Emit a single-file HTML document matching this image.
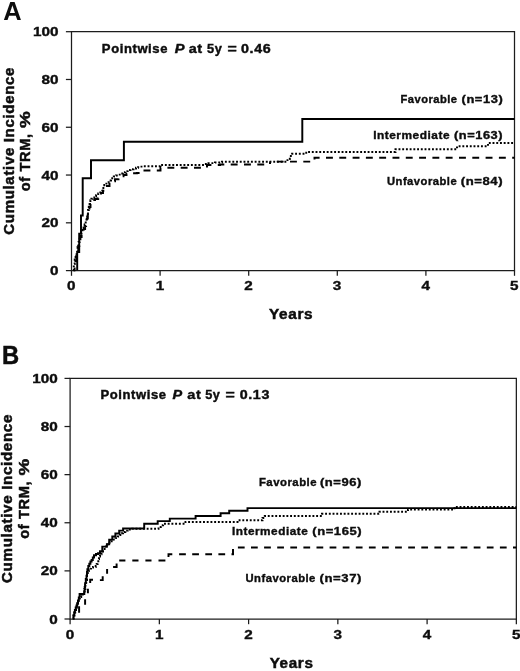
<!DOCTYPE html>
<html><head><meta charset="utf-8"><title>Cumulative Incidence of TRM</title>
<style>html,body{margin:0;padding:0;background:#fff;}svg{display:block;will-change:transform;}text{font-family:"Liberation Sans", sans-serif;font-weight:bold;fill:#0d0d0d;}</style></head><body>
<svg width="520" height="671" viewBox="0 0 520 671">
<rect width="520" height="671" fill="#fff"/>
<path d="M71.50,31.70 H514.50 V270.60 H71.50 Z" fill="none" stroke="#1c1c1c" stroke-width="1.25"/>
<path d="M65.90,270.60 H71.50" stroke="#1c1c1c" stroke-width="1.25"/>
<path d="M65.90,222.82 H71.50" stroke="#1c1c1c" stroke-width="1.25"/>
<path d="M65.90,175.04 H71.50" stroke="#1c1c1c" stroke-width="1.25"/>
<path d="M65.90,127.26 H71.50" stroke="#1c1c1c" stroke-width="1.25"/>
<path d="M65.90,79.48 H71.50" stroke="#1c1c1c" stroke-width="1.25"/>
<path d="M65.90,31.70 H71.50" stroke="#1c1c1c" stroke-width="1.25"/>
<path d="M71.50,270.60 V275.80" stroke="#1c1c1c" stroke-width="1.25"/>
<path d="M160.10,270.60 V275.80" stroke="#1c1c1c" stroke-width="1.25"/>
<path d="M248.70,270.60 V275.80" stroke="#1c1c1c" stroke-width="1.25"/>
<path d="M337.30,270.60 V275.80" stroke="#1c1c1c" stroke-width="1.25"/>
<path d="M425.90,270.60 V275.80" stroke="#1c1c1c" stroke-width="1.25"/>
<path d="M514.50,270.60 V275.80" stroke="#1c1c1c" stroke-width="1.25"/>
<text x="50.00" y="275.10" font-size="12.1" textLength="8.50" lengthAdjust="spacingAndGlyphs" stroke="#0d0d0d" stroke-width="0.36">0</text>
<text x="41.50" y="227.32" font-size="12.1" textLength="17.00" lengthAdjust="spacingAndGlyphs" stroke="#0d0d0d" stroke-width="0.36">20</text>
<text x="41.50" y="179.54" font-size="12.1" textLength="17.00" lengthAdjust="spacingAndGlyphs" stroke="#0d0d0d" stroke-width="0.36">40</text>
<text x="41.50" y="131.76" font-size="12.1" textLength="17.00" lengthAdjust="spacingAndGlyphs" stroke="#0d0d0d" stroke-width="0.36">60</text>
<text x="41.50" y="83.98" font-size="12.1" textLength="17.00" lengthAdjust="spacingAndGlyphs" stroke="#0d0d0d" stroke-width="0.36">80</text>
<text x="33.00" y="36.20" font-size="12.1" textLength="25.50" lengthAdjust="spacingAndGlyphs" stroke="#0d0d0d" stroke-width="0.36">100</text>
<text x="67.05" y="290.40" font-size="12.1" textLength="8.50" lengthAdjust="spacingAndGlyphs" stroke="#0d0d0d" stroke-width="0.36">0</text>
<text x="155.65" y="290.40" font-size="12.1" textLength="8.50" lengthAdjust="spacingAndGlyphs" stroke="#0d0d0d" stroke-width="0.36">1</text>
<text x="244.25" y="290.40" font-size="12.1" textLength="8.50" lengthAdjust="spacingAndGlyphs" stroke="#0d0d0d" stroke-width="0.36">2</text>
<text x="332.85" y="290.40" font-size="12.1" textLength="8.50" lengthAdjust="spacingAndGlyphs" stroke="#0d0d0d" stroke-width="0.36">3</text>
<text x="421.45" y="290.40" font-size="12.1" textLength="8.50" lengthAdjust="spacingAndGlyphs" stroke="#0d0d0d" stroke-width="0.36">4</text>
<text x="510.05" y="290.40" font-size="12.1" textLength="8.50" lengthAdjust="spacingAndGlyphs" stroke="#0d0d0d" stroke-width="0.36">5</text>
<text x="3.35" y="20.00" font-size="25.2" textLength="18.38" lengthAdjust="spacingAndGlyphs" stroke="none">A</text>
<text transform="translate(13.70,234.67) rotate(-90)" font-size="14.0" textLength="167.72" lengthAdjust="spacingAndGlyphs" stroke="#0d0d0d" stroke-width="0.48" letter-spacing="0.63">Cumulative Incidence</text>
<text transform="translate(30.00,191.26) rotate(-90)" font-size="14.0" textLength="57.97" lengthAdjust="spacingAndGlyphs" stroke="#0d0d0d" stroke-width="0.48" letter-spacing="0.63">of TRM,</text>
<text transform="translate(30.00,128.09) rotate(-90)" font-size="14.0" textLength="17.50" lengthAdjust="spacingAndGlyphs" stroke="#0d0d0d" stroke-width="0.48" letter-spacing="0.63">%</text>
<text x="268.96" y="319.30" font-size="14.0" textLength="44.35" lengthAdjust="spacingAndGlyphs" stroke="#0d0d0d" stroke-width="0.48" letter-spacing="0.63">Years</text>
<text x="101.89" y="52.70" font-size="11.9" textLength="66.13" lengthAdjust="spacingAndGlyphs" stroke="#0d0d0d" stroke-width="0.40" letter-spacing="0.54">Pointwise</text>
<text x="174.67" y="52.70" font-size="11.9" textLength="10.42" lengthAdjust="spacingAndGlyphs" font-style="italic" stroke="#0d0d0d" stroke-width="0.40" letter-spacing="0.54">P</text>
<text x="188.67" y="52.70" font-size="11.9" textLength="14.15" lengthAdjust="spacingAndGlyphs" stroke="#0d0d0d" stroke-width="0.40" letter-spacing="0.54">at</text>
<text x="207.00" y="52.70" font-size="11.9" textLength="15.39" lengthAdjust="spacingAndGlyphs" stroke="#0d0d0d" stroke-width="0.40" letter-spacing="0.54">5y</text>
<text x="227.50" y="52.70" font-size="11.9" textLength="10.00" lengthAdjust="spacingAndGlyphs" stroke="#0d0d0d" stroke-width="0.40" letter-spacing="0.54">=</text>
<text x="241.05" y="52.70" font-size="11.9" textLength="30.34" lengthAdjust="spacingAndGlyphs" stroke="#0d0d0d" stroke-width="0.40" letter-spacing="0.54">0.46</text>
<text x="400.51" y="102.90" font-size="10.3" textLength="56.97" lengthAdjust="spacingAndGlyphs" stroke="#0d0d0d" stroke-width="0.35" letter-spacing="0.46">Favorable</text>
<text x="461.60" y="102.90" font-size="10.3" textLength="41.64" lengthAdjust="spacingAndGlyphs" stroke="#0d0d0d" stroke-width="0.35" letter-spacing="0.46">(n=13)</text>
<text x="373.16" y="138.50" font-size="10.3" textLength="76.87" lengthAdjust="spacingAndGlyphs" stroke="#0d0d0d" stroke-width="0.35" letter-spacing="0.46">Intermediate</text>
<text x="454.00" y="138.50" font-size="10.3" textLength="49.14" lengthAdjust="spacingAndGlyphs" stroke="#0d0d0d" stroke-width="0.35" letter-spacing="0.46">(n=163)</text>
<text x="386.98" y="185.40" font-size="10.3" textLength="70.21" lengthAdjust="spacingAndGlyphs" stroke="#0d0d0d" stroke-width="0.35" letter-spacing="0.46">Unfavorable</text>
<text x="460.79" y="185.40" font-size="10.3" textLength="42.37" lengthAdjust="spacingAndGlyphs" stroke="#0d0d0d" stroke-width="0.35" letter-spacing="0.46">(n=84)</text>
<path d="M77.2,270.3 V252 H79.2 V233.8 H81.0 V215.4 H82.7 V178.3 H91.0 V160.2 H123.9 V141.7 H302.3 V119.0 H514.5" fill="none" stroke="#000" stroke-width="1.95"/>
<path d="M73.10,270.30 H73.80 V264.00 H74.70 V259.50 H75.60 V255.00 H76.60 V252.00 H77.60 V247.00 H78.60 V242.00 H79.60 V237.50 H80.60 V234.50 H81.50 V232.70 H82.50 V230.00 H83.60 V227.40 H84.60 V224.50 H85.70 V221.20 H86.50 V217.50 H87.20 V213.90 H88.00 V210.00 H88.80 V206.60 H89.60 V203.00 H90.40 V200.30 H91.40 V198.80 H92.50 V197.70 H94.30 V196.40 H96.10 V195.10 H98.20 V193.50 H100.30 V191.30 H102.30 V188.00 H104.30 V185.00 H106.40 V182.60 H108.60 V180.40 H111.00 V178.30 H113.80 V176.40 H116.00 V175.40 H118.50 V174.60 H121.00 V173.40 H123.10 V172.30 H125.40 V171.10 H127.70 V170.00 H130.50 V169.20 H133.50 V168.60 H136.00 V167.80 H138.10 V167.10 H140.50 V166.60 H142.70 V166.20 H160.00 V166.20 H160.50 V164.90 H200.80 V164.90 H204.00 V164.00 H208.50 V163.10 H215.00 V162.50 H222.00 V161.70 H285.40 V161.70 H287.50 V159.00 H289.80 V156.00 H292.10 V153.80 H302.70 V153.80 H305.00 V152.80 H307.50 V151.90 H393.60 V151.90 H395.50 V149.30 H455.20 V149.30 H457.00 V146.20 H485.80 V146.20 H488.00 V142.90 H514.50 V142.90" fill="none" stroke="#000" stroke-width="1.95" stroke-dasharray="1.9 1.82"/>
<path d="M74.00,270.30 H74.60 V266.00 H75.40 V261.00 H76.30 V256.00 H77.30 V251.00 H78.30 V246.00 H79.30 V241.00 H80.40 V237.00 H81.60 V234.50 H82.70 V232.00 H83.90 V229.00 H85.10 V226.00 H86.10 V222.50 H87.00 V218.50 H87.80 V214.50 H88.60 V210.50 H89.50 V207.00 H90.50 V204.00 H91.70 V201.50 H93.10 V200.00 H95.00 V199.00 H98.20 V198.20 H99.50 V195.50 H101.00 V193.00 H103.00 V190.80 H105.00 V188.50 H107.00 V186.00 H109.50 V183.60 H112.00 V181.30 H115.00 V179.30 H118.50 V177.60 H121.00 V176.20 H123.50 V175.00 H126.50 V173.80 H131.00 V173.30 H136.90 V172.90 H140.00 V171.50 H143.00 V170.40 H160.00 V170.40 H160.50 V167.70 H205.00 V167.70 H207.00 V164.90 H212.00 V164.90 H220.00 V164.50 H269.50 V164.50 H270.00 V161.60" fill="none" stroke="#000" stroke-width="1.95" stroke-dasharray="6.9 6.4" stroke-dashoffset="3.5"/>
<path d="M270,161.6 H314.5 V157.7 H514.5" fill="none" stroke="#000" stroke-width="1.95" stroke-dasharray="6.9 6.4" stroke-dashoffset="6.6"/>
<path d="M70.10,378.40 H516.35 V619.00 H70.10 Z" fill="none" stroke="#1c1c1c" stroke-width="1.25"/>
<path d="M64.50,619.00 H70.10" stroke="#1c1c1c" stroke-width="1.25"/>
<path d="M64.50,570.88 H70.10" stroke="#1c1c1c" stroke-width="1.25"/>
<path d="M64.50,522.76 H70.10" stroke="#1c1c1c" stroke-width="1.25"/>
<path d="M64.50,474.64 H70.10" stroke="#1c1c1c" stroke-width="1.25"/>
<path d="M64.50,426.52 H70.10" stroke="#1c1c1c" stroke-width="1.25"/>
<path d="M64.50,378.40 H70.10" stroke="#1c1c1c" stroke-width="1.25"/>
<path d="M70.10,619.00 V624.20" stroke="#1c1c1c" stroke-width="1.25"/>
<path d="M159.35,619.00 V624.20" stroke="#1c1c1c" stroke-width="1.25"/>
<path d="M248.60,619.00 V624.20" stroke="#1c1c1c" stroke-width="1.25"/>
<path d="M337.85,619.00 V624.20" stroke="#1c1c1c" stroke-width="1.25"/>
<path d="M427.10,619.00 V624.20" stroke="#1c1c1c" stroke-width="1.25"/>
<path d="M516.35,619.00 V624.20" stroke="#1c1c1c" stroke-width="1.25"/>
<text x="49.30" y="623.50" font-size="12.1" textLength="8.50" lengthAdjust="spacingAndGlyphs" stroke="#0d0d0d" stroke-width="0.36">0</text>
<text x="40.80" y="575.38" font-size="12.1" textLength="17.00" lengthAdjust="spacingAndGlyphs" stroke="#0d0d0d" stroke-width="0.36">20</text>
<text x="40.80" y="527.26" font-size="12.1" textLength="17.00" lengthAdjust="spacingAndGlyphs" stroke="#0d0d0d" stroke-width="0.36">40</text>
<text x="40.80" y="479.14" font-size="12.1" textLength="17.00" lengthAdjust="spacingAndGlyphs" stroke="#0d0d0d" stroke-width="0.36">60</text>
<text x="40.80" y="431.02" font-size="12.1" textLength="17.00" lengthAdjust="spacingAndGlyphs" stroke="#0d0d0d" stroke-width="0.36">80</text>
<text x="32.30" y="382.90" font-size="12.1" textLength="25.50" lengthAdjust="spacingAndGlyphs" stroke="#0d0d0d" stroke-width="0.36">100</text>
<text x="65.65" y="638.70" font-size="12.1" textLength="8.50" lengthAdjust="spacingAndGlyphs" stroke="#0d0d0d" stroke-width="0.36">0</text>
<text x="154.90" y="638.70" font-size="12.1" textLength="8.50" lengthAdjust="spacingAndGlyphs" stroke="#0d0d0d" stroke-width="0.36">1</text>
<text x="244.15" y="638.70" font-size="12.1" textLength="8.50" lengthAdjust="spacingAndGlyphs" stroke="#0d0d0d" stroke-width="0.36">2</text>
<text x="333.40" y="638.70" font-size="12.1" textLength="8.50" lengthAdjust="spacingAndGlyphs" stroke="#0d0d0d" stroke-width="0.36">3</text>
<text x="422.65" y="638.70" font-size="12.1" textLength="8.50" lengthAdjust="spacingAndGlyphs" stroke="#0d0d0d" stroke-width="0.36">4</text>
<text x="511.90" y="638.70" font-size="12.1" textLength="8.50" lengthAdjust="spacingAndGlyphs" stroke="#0d0d0d" stroke-width="0.36">5</text>
<text x="1.96" y="363.80" font-size="25.6" textLength="17.16" lengthAdjust="spacingAndGlyphs" stroke="#0d0d0d" stroke-width="0.5">B</text>
<text transform="translate(12.10,582.97) rotate(-90)" font-size="14.0" textLength="168.93" lengthAdjust="spacingAndGlyphs" stroke="#0d0d0d" stroke-width="0.48" letter-spacing="0.63">Cumulative Incidence</text>
<text transform="translate(28.50,538.76) rotate(-90)" font-size="14.0" textLength="58.07" lengthAdjust="spacingAndGlyphs" stroke="#0d0d0d" stroke-width="0.48" letter-spacing="0.63">of TRM,</text>
<text transform="translate(28.50,475.39) rotate(-90)" font-size="14.0" textLength="17.50" lengthAdjust="spacingAndGlyphs" stroke="#0d0d0d" stroke-width="0.48" letter-spacing="0.63">%</text>
<text x="269.66" y="668.40" font-size="14.0" textLength="43.94" lengthAdjust="spacingAndGlyphs" stroke="#0d0d0d" stroke-width="0.48" letter-spacing="0.63">Years</text>
<text x="100.49" y="399.40" font-size="11.9" textLength="66.13" lengthAdjust="spacingAndGlyphs" stroke="#0d0d0d" stroke-width="0.40" letter-spacing="0.54">Pointwise</text>
<text x="172.57" y="399.40" font-size="11.9" textLength="10.31" lengthAdjust="spacingAndGlyphs" font-style="italic" stroke="#0d0d0d" stroke-width="0.40" letter-spacing="0.54">P</text>
<text x="187.27" y="399.40" font-size="11.9" textLength="14.15" lengthAdjust="spacingAndGlyphs" stroke="#0d0d0d" stroke-width="0.40" letter-spacing="0.54">at</text>
<text x="205.20" y="399.40" font-size="11.9" textLength="15.29" lengthAdjust="spacingAndGlyphs" stroke="#0d0d0d" stroke-width="0.40" letter-spacing="0.54">5y</text>
<text x="225.40" y="399.40" font-size="11.9" textLength="10.00" lengthAdjust="spacingAndGlyphs" stroke="#0d0d0d" stroke-width="0.40" letter-spacing="0.54">=</text>
<text x="239.65" y="399.40" font-size="11.9" textLength="30.34" lengthAdjust="spacingAndGlyphs" stroke="#0d0d0d" stroke-width="0.40" letter-spacing="0.54">0.13</text>
<text x="258.94" y="485.60" font-size="10.3" textLength="58.15" lengthAdjust="spacingAndGlyphs" stroke="#0d0d0d" stroke-width="0.35" letter-spacing="0.46">Favorable</text>
<text x="319.99" y="485.60" font-size="10.3" textLength="41.96" lengthAdjust="spacingAndGlyphs" stroke="#0d0d0d" stroke-width="0.35" letter-spacing="0.46">(n=96)</text>
<text x="231.96" y="535.40" font-size="10.3" textLength="76.36" lengthAdjust="spacingAndGlyphs" stroke="#0d0d0d" stroke-width="0.35" letter-spacing="0.46">Intermediate</text>
<text x="312.29" y="535.40" font-size="10.3" textLength="49.86" lengthAdjust="spacingAndGlyphs" stroke="#0d0d0d" stroke-width="0.35" letter-spacing="0.46">(n=165)</text>
<text x="245.47" y="582.20" font-size="10.3" textLength="70.41" lengthAdjust="spacingAndGlyphs" stroke="#0d0d0d" stroke-width="0.35" letter-spacing="0.46">Unfavorable</text>
<text x="319.59" y="582.20" font-size="10.3" textLength="42.48" lengthAdjust="spacingAndGlyphs" stroke="#0d0d0d" stroke-width="0.35" letter-spacing="0.46">(n=37)</text>
<path d="M72.60,618.60 H73.40 V615.50 H74.20 V612.50 H74.90 V609.90 H75.70 V607.50 H76.50 V605.50 H77.20 V603.40 H78.00 V600.50 H78.80 V597.50 H79.60 V594.00 H84.30 V591.00 H84.70 V587.00 H85.10 V583.10 H85.80 V579.00 H86.50 V575.70 H87.00 V572.00 H87.40 V569.20 H88.30 V566.00 H89.30 V563.70 H90.40 V561.50 H91.60 V560.00 H92.80 V557.50 H94.00 V555.20 H96.00 V554.00 H98.00 V553.20 H100.00 V551.20 H102.30 V546.60 H106.90 V544.20 H109.20 V539.60 H112.30 V536.50 H115.40 V533.50 H119.20 V530.60 H123.10 V528.40 H144.20 V523.80 H157.70 V521.10 H169.80 V518.60 H195.60 V515.90 H220.60 V513.30 H229.20 V510.80 H247.50 V508.10 H516.35 V508.10" fill="none" stroke="#000" stroke-width="1.95"/>
<path d="M72.80,618.60 H73.60 V615.50 H74.40 V612.50 H75.20 V609.90 H76.00 V607.50 H76.80 V605.50 H77.60 V603.00 H78.60 V600.00 H79.80 V597.00 H81.20 V594.50 H82.80 V592.00 H84.40 V589.00 H85.40 V585.00 H86.20 V580.00 H87.00 V575.00 H87.80 V571.00 H88.80 V568.60 H91.00 V567.50 H93.00 V566.90 H95.70 V566.00 H96.70 V564.00 H97.60 V562.80 H98.30 V559.00 H99.00 V556.50 H100.00 V554.20 H101.50 V551.50 H103.00 V549.00 H104.60 V546.50 H106.50 V544.50 H108.60 V542.80 H110.80 V541.20 H113.00 V539.60 H115.40 V538.10 H117.60 V536.50 H120.00 V535.00 H121.50 V533.30 H123.10 V531.90 H125.30 V530.60 H127.70 V529.60 H132.30 V528.80 H156.20 V528.80 H158.50 V527.00 H160.80 V525.30 H163.10 V523.80 H185.00 V523.40 H185.50 V521.90 H237.00 V521.90 H237.50 V520.30 H260.60 V520.30 H262.50 V518.00 H264.80 V516.00 H319.80 V516.00 H322.00 V513.80 H378.30 V513.60 H379.50 V511.70 H406.80 V511.70 H408.00 V509.60 H453.40 V509.60 H454.50 V506.90 H516.35 V506.90" fill="none" stroke="#000" stroke-width="1.95" stroke-dasharray="1.9 1.82"/>
<path d="M79.1,612.7 V606.2 M85.1,604.8 V599.3 M87.9,593.3 V588.7 M90.2,583.1 V579.8 H93 M99.9,580.1 H102.7 V576.3 M107.1,573.7 V569.0 M113.1,567.0 H116.6 V563.5 M119.2,560.5 H125.4 M132.3,560.5 H138.5 M145.4,560.5 H151.5 M158.5,560.5 H165.4 M168.5,557 V554.2 H172.3" fill="none" stroke="#000" stroke-width="1.95"/>
<path d="M178.7,554.2 H233 V547.5 H516.35" fill="none" stroke="#000" stroke-width="1.95" stroke-dasharray="6.75 6.35" stroke-dashoffset="-0.4"/>
</svg></body></html>
